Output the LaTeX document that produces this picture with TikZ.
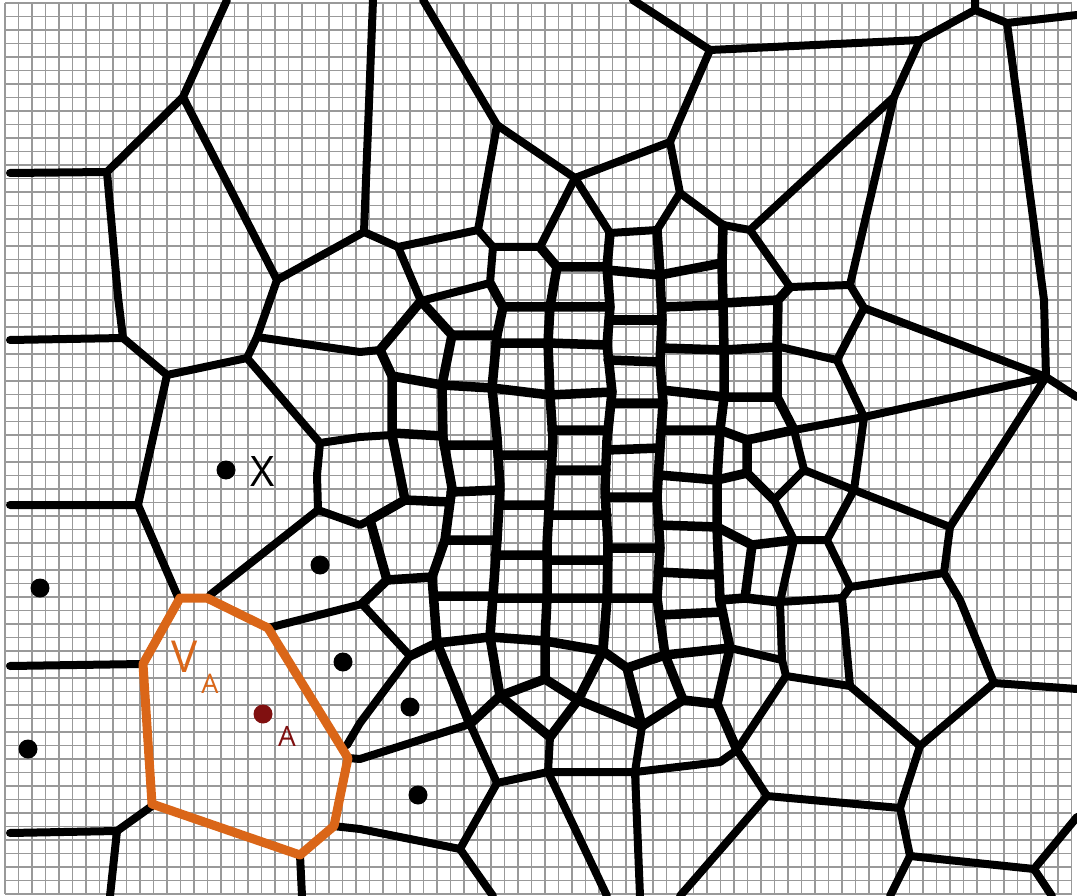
\documentclass[tikz,border=0pt]{standalone}
\usepackage{fontspec}
\setmainfont{Open Sans}
\definecolor{vorange}{RGB}{218,102,24}
\definecolor{adark}{RGB}{128,16,16}
\begin{document}
\begin{tikzpicture}[x=1pt,y=-1pt,
  edge/.style={line width=8pt,line join=round,line cap=round,black},
  inner/.style={line width=9.5pt,line join=round,line cap=round,black},
  gridl/.style={line width=1.1pt,black!40},
  seed/.style={circle,fill=black,inner sep=0pt,minimum size=19pt},
  lbl/.style={inner sep=0pt}]
\useasboundingbox (0,0) rectangle (1077,896);
\fill[white] (0,0) rectangle (1077,896);
\foreach \i in {0,...,79} \draw[gridl] ({5+13.5*\i},3) -- ({5+13.5*\i},894);
\foreach \j in {0,...,66} \draw[gridl] (5,{3+13.5*\j}) -- (1072,{3+13.5*\j});
% outer left / top
\draw[edge] (227,0)--(183,97)--(107,172)--(10,173);
\draw[edge] (107,172)--(118,297)--(123,338)--(10,340);
\draw[edge] (183,97)--(277,280)--(364,232)--(373,0);
\draw[edge] (277,280)--(270,300)--(257,337)--(247,358)--(167,375)--(123,338);
\draw[edge] (257,337)--(360,352)--(380,350);
\draw[edge] (247,358)--(320,443)--(360,437)--(392,435);
\draw[edge] (320,443)--(317,475)--(318,510)--(360,525)--(370,520);
\draw[edge] (318,510)--(210,595);
\draw[edge] (167,375)--(138,505)--(10,505);
\draw[edge] (138,505)--(178,597);
\draw[edge] (10,666)--(143,664);
\draw[edge] (268,628)--(362,604)--(410,656)--(360,723)--(347,745);
\draw[edge] (348,758)--(360,759)--(470,724);
\draw[edge] (333,826)--(360,829)--(460,849)--(493,896);
\draw[edge] (152,806)--(117,831)--(10,833);
\draw[edge] (117,831)--(110,896);
\draw[edge] (300,855)--(302,896);
% top
\draw[edge] (364,232)--(398,247)--(478,230)--(497,125)--(423,0);
\draw[edge] (398,247)--(421,301)--(490,283)--(493,247)--(478,230);
\draw[edge] (493,247)--(540,247)--(575,178)--(497,125);
\draw[edge] (575,178)--(670,142)--(710,50)--(633,0);
\draw[edge] (710,50)--(920,40)--(975,10)--(975,0);
\draw[edge] (975,10)--(1007,23)--(1077,15);
\draw[edge] (1007,23)--(1044,300)--(1046,377)--(1077,397);
\draw[edge] (920,40)--(894,97)--(750,230)--(723,225)--(680,193)--(670,142);
\draw[edge] (894,97)--(850,285)--(790,287)--(750,230);
\draw[edge] (680,193)--(657,230)--(610,233)--(575,178);
\draw[edge] (850,285)--(864,308)--(1046,377);
\draw[edge] (864,308)--(837,360)--(864,417)--(1046,377)--(950,527)--(854,490)--(864,417)--(794,430);
\draw[edge] (837,360)--(780,347);
% right / bottom right
\draw[edge] (950,527)--(944,573)--(960,600)--(994,683)--(1077,689);
\draw[edge] (994,683)--(920,746)--(850,686)--(842,598)--(850,587)--(944,573);
\draw[edge] (850,686)--(786,676)--(737,750);
\draw[edge] (920,746)--(900,808)--(767,796)--(737,750);
\draw[edge] (900,808)--(910,856)--(1034,869)--(1077,817);
\draw[edge] (910,856)--(890,896);
\draw[edge] (1034,869)--(1052,896);
\draw[edge] (767,796)--(680,896);
\draw[edge] (850,587)--(827,540)--(854,490);
\draw[edge] (827,540)--(794,540)--(774,500)--(804,470)--(854,490);
\draw[edge] (794,430)--(804,470);
\draw[edge] (794,540)--(780,602)--(842,598);
\draw[edge] (780,602)--(782,660)--(786,676);
\draw[edge] (782,660)--(730,648);
% dense zone: vertical chains
\draw[inner] (380,350)--(421,301);
\draw[inner] (380,350)--(392,376)--(392,435)--(405,500)--(370,520)--(387,580)--(362,604);
\draw[inner] (421,301)--(452,335)--(442,385)--(443,438)--(452,488)--(450,502)--(445,540)--(432,577)--(437,643)--(470,724);
\draw[inner] (490,283)--(503,307)--(497,335)--(492,388)--(497,437)--(500,487)--(497,540)--(493,596)--(490,637)--(500,696)--(470,724);
\draw[inner] (540,247)--(557,267)--(550,307)--(548,343)--(550,395)--(553,440)--(550,490)--(547,545)--(547,598)--(545,641)--(545,679);
\draw[inner] (610,233)--(607,267)--(610,307)--(607,345)--(612,392)--(607,440)--(605,490)--(608,545)--(607,598)--(603,651);
\draw[inner] (657,230)--(660,275)--(662,320)--(660,362)--(663,403)--(660,448)--(657,497)--(660,548)--(657,598)--(665,655);
\draw[inner] (723,225)--(722,263)--(723,305)--(724,350)--(724,397)--(720,430)--(717,480)--(717,527)--(720,600)--(730,648);
\draw[inner] (790,287)--(778,300)--(777,347)--(777,397)--(794,430);
% dense zone: horizontal pieces
\draw[inner] (392,376)--(442,385) (392,433)--(443,436) (405,500)--(450,502) (387,580)--(432,577);
\draw[inner] (452,335)--(497,335) (442,385)--(492,388) (444,445)--(497,445) (451,492)--(500,490) (445,540)--(497,540) (434,596)--(493,596) (437,643)--(490,637);
\draw[inner] (503,307)--(550,307) (496,343)--(548,343) (492,388)--(550,395) (498,455)--(552,455) (499,505)--(549,505) (495,555)--(547,555) (493,598)--(547,598) (490,637)--(545,641);
\draw[inner] (557,267)--(607,267) (550,307)--(610,307) (548,343)--(607,345) (550,395)--(612,392) (552,430)--(608,430) (551,470)--(606,470) (549,515)--(607,515) (547,560)--(608,560) (547,598)--(607,598) (545,641)--(603,651);
\draw[inner] (607,270)--(660,275) (610,320)--(662,320) (608,360)--(660,362) (611,403)--(663,403) (607,450)--(660,448) (605,497)--(657,497) (608,548)--(660,548) (607,598)--(657,598) (603,651)--(627,668)--(665,655);
\draw[inner] (660,275)--(722,263) (662,307)--(723,305) (661,348)--(724,350) (662,390)--(724,397) (661,430)--(720,430) (659,475)--(717,480) (658,525)--(717,527) (658,572)--(719,575) (660,615)--(722,612) (665,655)--(730,648);
\draw[inner] (723,303)--(778,300) (724,350)--(777,347) (724,397)--(777,397);
\draw[inner] (720,430)--(747,440)--(794,430) (747,440)--(747,473)--(717,480) (747,473)--(774,500);
\draw[inner] (717,527)--(752,545)--(794,540) (752,545)--(745,598)--(720,600) (745,598)--(780,602);
% lower middle
\draw[inner] (437,643)--(410,656);
\draw[inner] (500,696)--(545,679)--(578,700)--(603,651);
\draw[inner] (578,700)--(550,737)--(500,696);
\draw[edge] (550,737)--(548,772)--(497,783)--(470,724);
\draw[edge] (497,783)--(460,849);
\draw[edge] (548,772)--(607,896);
\draw[edge] (548,772)--(635,772)--(640,896);
\draw[inner] (578,700)--(642,726)--(627,668);
\draw[edge] (642,726)--(635,772);
\draw[inner] (642,726)--(683,700)--(665,655);
\draw[inner] (683,700)--(717,704)--(737,750);
\draw[inner] (717,704)--(730,648);
\draw[edge] (635,772)--(720,762)--(737,750);
% cell V_A
\draw[vorange,line width=9pt,line join=round] (180,598)--(207,598)--(268,628)--(348,758)--(334,826)--(300,855)--(152,804)--(143,664)--cycle;
% generators
\node[seed] (sx) at (226,470) {};
\node[seed] (s2) at (320,565) {};
\node[seed] (s3) at (40,588) {};
\node[seed] (s4) at (343,662) {};
\node[seed] (s5) at (410,707) {};
\node[seed] (s6) at (28,749) {};
\node[seed] (s7) at (418,795) {};
\node[seed,fill=adark] (sa) at (263,714) {};
% labels
\node[lbl,font=\fontsize{42}{42}\selectfont] (lx) at (263,472) {X};
\node[lbl,text=vorange,font=\fontsize{44}{44}\selectfont] (lv) at (185,657) {V};
\node[lbl,text=vorange,font=\fontsize{27}{27}\selectfont] (lva) at (210,684) {A};
\node[lbl,text=adark,font=\fontsize{28}{28}\selectfont] (la) at (287,736) {A};
\end{tikzpicture}
\end{document}
